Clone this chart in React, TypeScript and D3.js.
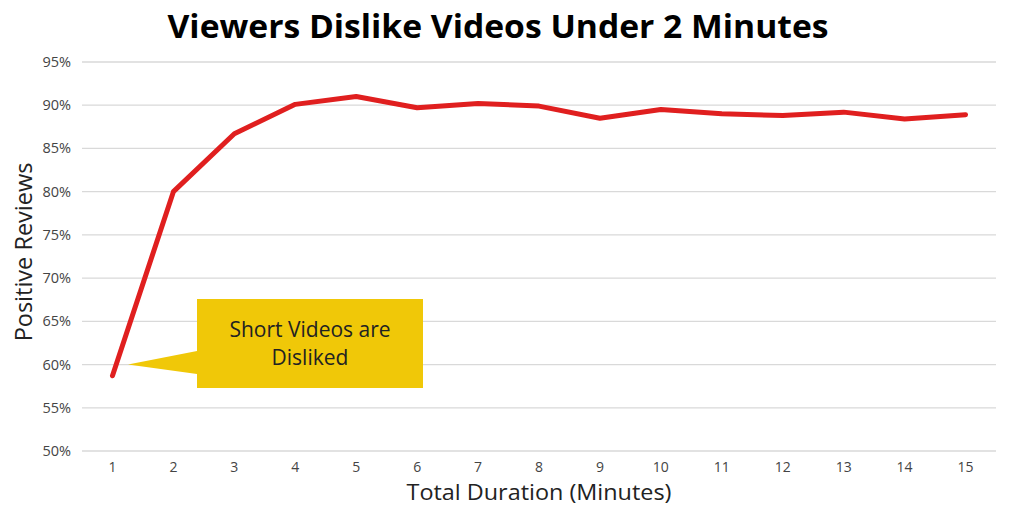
import React from "react";
import * as d3 from "d3";

const minutes = [1, 2, 3, 4, 5, 6, 7, 8, 9, 10, 11, 12, 13, 14, 15];
const positive = [58.7, 80.0, 86.7, 90.1, 91.0, 89.7, 90.2, 89.9, 88.5, 89.5, 89.0, 88.8, 89.2, 88.4, 88.9];
const yTicks = [50, 55, 60, 65, 70, 75, 80, 85, 90, 95];
const titleText = "Viewers Dislike Videos Under 2 Minutes";
const xLabel = "Total Duration (Minutes)";
const yLabel = "Positive Reviews";
const calloutLines = ["Short Videos are", "Disliked"];
const calloutPoint = 60; // value the callout points to

const W = 1024;
const H = 517;
const FONT = "'Open Sans', Lato, sans-serif";

export default function App() {
  const x = d3.scaleBand<number>().domain(minutes).range([82, 996]);
  const y = d3.scaleLinear().domain([50, 95]).range([451, 62]);
  const cx = (m: number) => (x(m) as number) + x.bandwidth() / 2;

  const line = d3
    .line<number>()
    .x((_, i) => cx(minutes[i]))
    .y((d) => y(d));

  const rectX = 197, rectY = 299, rectW = 226, rectH = 89;
  const tipX = 128, tipY = y(calloutPoint);

  return (
    <svg width={W} height={H} style={{ position: "absolute", left: 0, top: 0, background: "#fff" }}>
      <text x={498} y={38} textAnchor="middle" fontFamily={FONT} fontWeight={700} fontSize={32} fill="#000" textLength={661} lengthAdjust="spacingAndGlyphs">
        {titleText}
      </text>
      {yTicks.map((t) => (
        <g key={t}>
          <line x1={82} x2={996} y1={y(t)} y2={y(t)} stroke="#d9d9d9" strokeWidth={1.3} />
          <text x={71} y={y(t) + 5} textAnchor="end" fontFamily={FONT} fontSize={14.5} fill="#444">
            {t}%
          </text>
        </g>
      ))}
      {minutes.map((m) => (
        <text key={m} x={cx(m)} y={471.5} textAnchor="middle" fontFamily={FONT} fontSize={14} fill="#444">
          {m}
        </text>
      ))}
      <path d={line(positive) || ""} fill="none" stroke="#E01F1F" strokeWidth={5} strokeLinejoin="round" strokeLinecap="round" />
      <path
        d={`M${tipX},${tipY} L${rectX},${351} L${rectX},${rectY} L${rectX + rectW},${rectY} L${rectX + rectW},${rectY + rectH} L${rectX},${rectY + rectH} L${rectX},${374} Z`}
        fill="#F0C808"
      />
      {calloutLines.map((l, i) => (
        <text key={i} x={rectX + rectW / 2} y={337 + i * 28} textAnchor="middle" fontFamily={FONT} fontSize={21} fill="#222">
          {l}
        </text>
      ))}
      <text x={539} y={500} textAnchor="middle" fontFamily={FONT} fontSize={22.5} fill="#222" textLength={265} lengthAdjust="spacingAndGlyphs">
        {xLabel}
      </text>
      <text transform={`translate(32,252) rotate(-90)`} textAnchor="middle" fontFamily={FONT} fontSize={23.5} fill="#222">
        {yLabel}
      </text>
    </svg>
  );
}
